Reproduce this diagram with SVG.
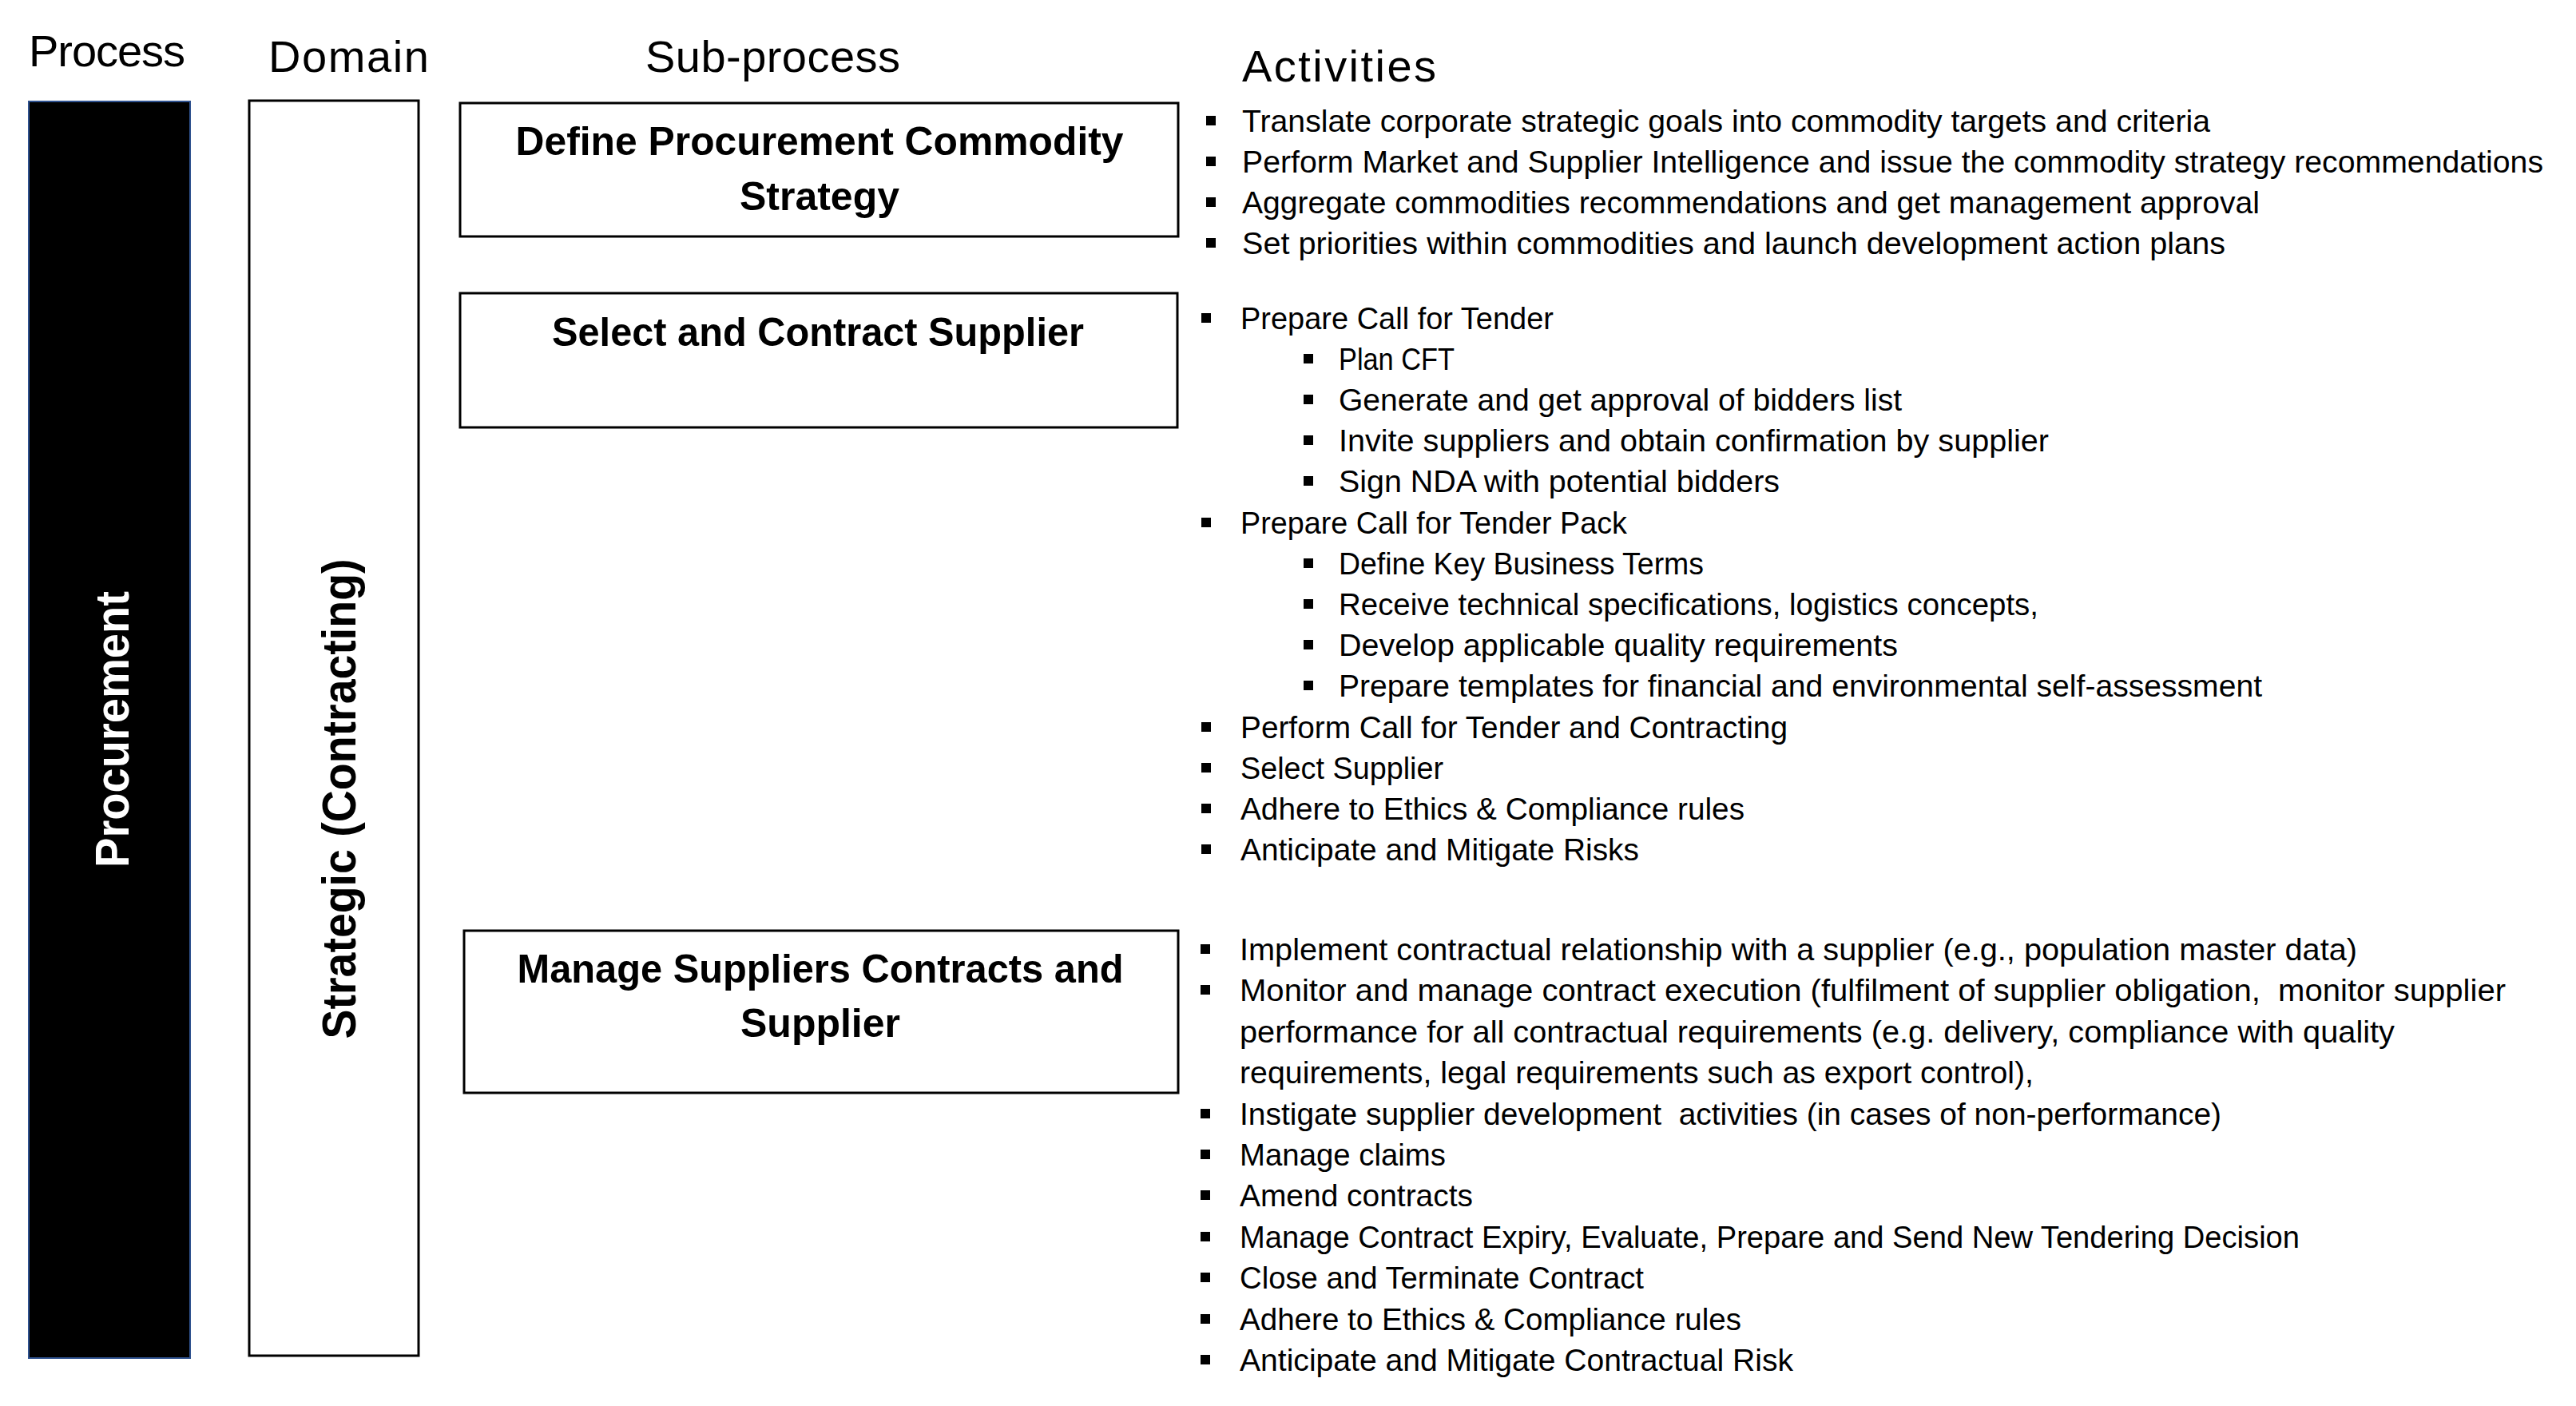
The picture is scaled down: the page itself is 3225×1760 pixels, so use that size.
<svg xmlns="http://www.w3.org/2000/svg" xmlns:xlink="http://www.w3.org/1999/xlink" width="3225" height="1760" viewBox="0 0 3225 1760">
<style>
.hdr{font-family:"Liberation Sans",Arial,sans-serif;font-size:56px;fill:#000}
.box{fill:#fff;stroke:#000;stroke-width:3}
.bt{font-family:"Liberation Sans",Arial,sans-serif;font-size:50px;font-weight:bold;fill:#000;text-anchor:middle}
.vt{font-family:"Liberation Sans",Arial,sans-serif;font-size:60px;font-weight:bold;text-anchor:middle}
.li{font-family:"Liberation Sans",Arial,sans-serif;font-size:39px;fill:#000;white-space:pre}
</style>
<defs><rect id="b" width="12" height="12" fill="#000"/></defs>
<rect width="3225" height="1760" fill="#fff"/>
<g id="headers">
<text class="hdr" x="36" y="83" textLength="196">Process</text>
<text class="hdr" x="336" y="90" textLength="201">Domain</text>
<text class="hdr" x="808" y="90" textLength="319">Sub-process</text>
<text class="hdr" x="1555" y="102" textLength="243">Activities</text>
</g>
<g id="process">
<rect x="36" y="127" width="202" height="1573" fill="#000" stroke="#2F528F" stroke-width="2"/>
<text class="vt" fill="#fff" transform="translate(161,913) rotate(-90)" textLength="346" lengthAdjust="spacingAndGlyphs">Procurement</text>
</g>
<g id="domain">
<rect class="box" x="312" y="126" width="212" height="1571"/>
<text class="vt" fill="#000" transform="translate(445,1000) rotate(-90)" textLength="601" lengthAdjust="spacingAndGlyphs">Strategic (Contracting)</text>
</g>
<g id="sub-define">
<rect class="box" x="576" y="129" width="899" height="167"/>
<text class="bt" x="1026" y="194" textLength="761" lengthAdjust="spacingAndGlyphs">Define Procurement Commodity</text>
<text class="bt" x="1026" y="263">Strategy</text>
</g>
<g id="sub-select">
<rect class="box" x="576" y="367" width="898" height="168"/>
<text class="bt" x="1024" y="433" textLength="666" lengthAdjust="spacingAndGlyphs">Select and Contract Supplier</text>
</g>
<g id="sub-manage">
<rect class="box" x="581" y="1165" width="894" height="203"/>
<text class="bt" x="1027" y="1230" textLength="759" lengthAdjust="spacingAndGlyphs">Manage Suppliers Contracts and</text>
<text class="bt" x="1027" y="1298">Supplier</text>
</g>
<g id="activities-define">
<use href="#b" x="1510" y="145"/><text class="li" x="1555" y="165" textLength="1212" lengthAdjust="spacingAndGlyphs">Translate corporate strategic goals into commodity targets and criteria</text>
<use href="#b" x="1510" y="196"/><text class="li" x="1555" y="216" textLength="1629" lengthAdjust="spacingAndGlyphs">Perform Market and Supplier Intelligence and issue the commodity strategy recommendations</text>
<use href="#b" x="1510" y="247"/><text class="li" x="1555" y="267" textLength="1274" lengthAdjust="spacingAndGlyphs">Aggregate commodities recommendations and get management approval</text>
<use href="#b" x="1510" y="298"/><text class="li" x="1555" y="318" textLength="1231" lengthAdjust="spacingAndGlyphs">Set priorities within commodities and launch development action plans</text>
</g>
<g id="activities-select">
<use href="#b" x="1504" y="392"/><text class="li" x="1553" y="412" textLength="392" lengthAdjust="spacingAndGlyphs">Prepare Call for Tender</text>
<use href="#b" x="1632" y="443"/><text class="li" x="1676" y="463" textLength="145" lengthAdjust="spacingAndGlyphs">Plan CFT</text>
<use href="#b" x="1632" y="494"/><text class="li" x="1676" y="514" textLength="705" lengthAdjust="spacingAndGlyphs">Generate and get approval of bidders list</text>
<use href="#b" x="1632" y="545"/><text class="li" x="1676" y="565" textLength="889" lengthAdjust="spacingAndGlyphs">Invite suppliers and obtain confirmation by supplier</text>
<use href="#b" x="1632" y="596"/><text class="li" x="1676" y="616" textLength="552" lengthAdjust="spacingAndGlyphs">Sign NDA with potential bidders</text>
<use href="#b" x="1504" y="648"/><text class="li" x="1553" y="668" textLength="484" lengthAdjust="spacingAndGlyphs">Prepare Call for Tender Pack</text>
<use href="#b" x="1632" y="699"/><text class="li" x="1676" y="719" textLength="457" lengthAdjust="spacingAndGlyphs">Define Key Business Terms</text>
<use href="#b" x="1632" y="750"/><text class="li" x="1676" y="770" textLength="876" lengthAdjust="spacingAndGlyphs">Receive technical specifications, logistics concepts,</text>
<use href="#b" x="1632" y="801"/><text class="li" x="1676" y="821" textLength="700" lengthAdjust="spacingAndGlyphs">Develop applicable quality requirements</text>
<use href="#b" x="1632" y="852"/><text class="li" x="1676" y="872" textLength="1156" lengthAdjust="spacingAndGlyphs">Prepare templates for financial and environmental self-assessment</text>
<use href="#b" x="1504" y="904"/><text class="li" x="1553" y="924" textLength="685" lengthAdjust="spacingAndGlyphs">Perform Call for Tender and Contracting</text>
<use href="#b" x="1504" y="955"/><text class="li" x="1553" y="975" textLength="254" lengthAdjust="spacingAndGlyphs">Select Supplier</text>
<use href="#b" x="1504" y="1006"/><text class="li" x="1553" y="1026" textLength="631" lengthAdjust="spacingAndGlyphs">Adhere to Ethics &amp; Compliance rules</text>
<use href="#b" x="1504" y="1057"/><text class="li" x="1553" y="1077" textLength="499" lengthAdjust="spacingAndGlyphs">Anticipate and Mitigate Risks</text>
</g>
<g id="activities-manage">
<use href="#b" x="1503" y="1182"/><text class="li" x="1552" y="1202" textLength="1399" lengthAdjust="spacingAndGlyphs">Implement contractual relationship with a supplier (e.g., population master data)</text>
<use href="#b" x="1503" y="1233"/><text class="li" x="1552" y="1253" textLength="1585" lengthAdjust="spacingAndGlyphs">Monitor and manage contract execution (fulfilment of supplier obligation,  monitor supplier</text>
<text class="li" x="1552" y="1305" textLength="1446" lengthAdjust="spacingAndGlyphs">performance for all contractual requirements (e.g. delivery, compliance with quality</text>
<text class="li" x="1552" y="1356" textLength="994" lengthAdjust="spacingAndGlyphs">requirements, legal requirements such as export control),</text>
<use href="#b" x="1503" y="1388"/><text class="li" x="1552" y="1408" textLength="1229" lengthAdjust="spacingAndGlyphs">Instigate supplier development  activities (in cases of non-performance)</text>
<use href="#b" x="1503" y="1439"/><text class="li" x="1552" y="1459" textLength="258" lengthAdjust="spacingAndGlyphs">Manage claims</text>
<use href="#b" x="1503" y="1490"/><text class="li" x="1552" y="1510" textLength="292" lengthAdjust="spacingAndGlyphs">Amend contracts</text>
<use href="#b" x="1503" y="1542"/><text class="li" x="1552" y="1562" textLength="1327" lengthAdjust="spacingAndGlyphs">Manage Contract Expiry, Evaluate, Prepare and Send New Tendering Decision</text>
<use href="#b" x="1503" y="1593"/><text class="li" x="1552" y="1613" textLength="506" lengthAdjust="spacingAndGlyphs">Close and Terminate Contract</text>
<use href="#b" x="1503" y="1645"/><text class="li" x="1552" y="1665" textLength="628" lengthAdjust="spacingAndGlyphs">Adhere to Ethics &amp; Compliance rules</text>
<use href="#b" x="1503" y="1696"/><text class="li" x="1552" y="1716" textLength="693" lengthAdjust="spacingAndGlyphs">Anticipate and Mitigate Contractual Risk</text>
</g>
<g id="connectors"/>
</svg>
